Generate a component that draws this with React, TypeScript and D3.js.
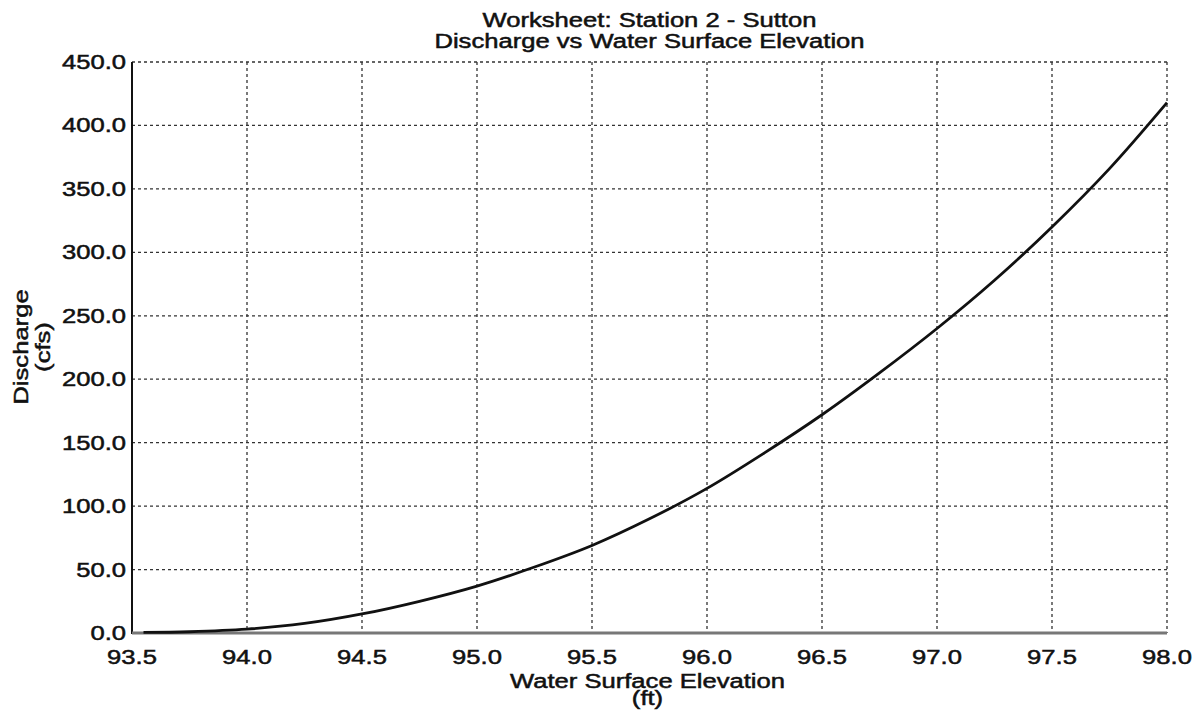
import React from 'react';
import * as d3 from 'd3';

// rating curve
const elevation = [93.55, 93.75, 94.0, 94.25, 94.5, 94.75, 95.0, 95.25, 95.5, 95.75, 96.0, 96.25, 96.5, 96.75, 97.0, 97.25, 97.5, 97.75, 98.0];
const discharge = [0.5, 1, 3, 7.5, 15, 25, 37, 52, 69, 90, 114, 142, 172, 205, 240, 278, 320, 366, 418];

const xTicks = [93.5, 94.0, 94.5, 95.0, 95.5, 96.0, 96.5, 97.0, 97.5, 98.0];
const yTicks = [0, 50, 100, 150, 200, 250, 300, 350, 400, 450];

const titleLines = ['Worksheet: Station 2 - Sutton', 'Discharge vs Water Surface Elevation'];
const xTitleLines = ['Water Surface Elevation', '(ft)'];
const yTitleLines = ['Discharge', '(cfs)'];

const W = 1204;
const H = 715;
const FONT = 'Arial, "Liberation Sans", sans-serif';
const STRETCH = 1.28;

// the scanned text is wider and heavier than plain Arial
function Label({ x, y, anchor = 'middle', rotate = 0, children }: any) {
  return (
    <text
      transform={`translate(${x},${y}) rotate(${rotate}) scale(${STRETCH},1)`}
      textAnchor={anchor}
      fontFamily={FONT}
      fontSize={20}
      fill="#111"
      stroke="#111"
      strokeWidth={0.5}
    >
      {children}
    </text>
  );
}

export default function App() {
  const x = d3.scaleLinear().domain([93.5, 98.0]).range([132, 1167]);
  const y = d3.scaleLinear().domain([0, 450]).range([633, 62]);

  const points = elevation.map((e, i) => [e, discharge[i]] as [number, number]);
  const line = d3.line<[number, number]>()
    .x(d => x(d[0]))
    .y(d => y(d[1]))
    .curve(d3.curveCatmullRom.alpha(0.5));

  const [x0, x1] = x.range();
  const [y0, y1] = y.range();
  const cx = (x0 + x1) / 2;

  return (
    <svg width={W} height={H} style={{ position: 'absolute', left: 0, top: 0, background: '#fff' }}>
      {/* grid */}
      <g stroke="#333" strokeWidth={1.3} strokeDasharray="3,3">
        {xTicks.slice(1).map(t => (
          <line key={'gx' + t} x1={x(t)} x2={x(t)} y1={y1} y2={y0} />
        ))}
        {yTicks.slice(1).map(t => (
          <line key={'gy' + t} x1={x0} x2={x1} y1={y(t)} y2={y(t)} />
        ))}
      </g>

      {/* axes */}
      <line x1={x0} x2={x0} y1={y1} y2={y0 + 1} stroke="#111" strokeWidth={2} />
      <line x1={x0} x2={x1} y1={y0} y2={y0} stroke="#777" strokeWidth={3} />

      {/* curve */}
      <path d={line(points) || ''} fill="none" stroke="#111" strokeWidth={2.8} />

      {/* y tick labels */}
      {yTicks.map(t => (
        <Label key={'yl' + t} x={126} y={y(t) + 7} anchor="end">
          {t.toFixed(1)}
        </Label>
      ))}

      {/* x tick labels */}
      {xTicks.map(t => (
        <Label key={'xl' + t} x={x(t)} y={664}>
          {t.toFixed(1)}
        </Label>
      ))}

      {/* titles */}
      <Label x={cx} y={27}>{titleLines[0]}</Label>
      <Label x={cx} y={48}>{titleLines[1]}</Label>

      <Label x={cx - 2} y={688}>{xTitleLines[0]}</Label>
      <Label x={cx - 2} y={705}>{xTitleLines[1]}</Label>

      <Label x={28} y={347} rotate={-90}>{yTitleLines[0]}</Label>
      <Label x={50} y={347} rotate={-90}>{yTitleLines[1]}</Label>
    </svg>
  );
}
